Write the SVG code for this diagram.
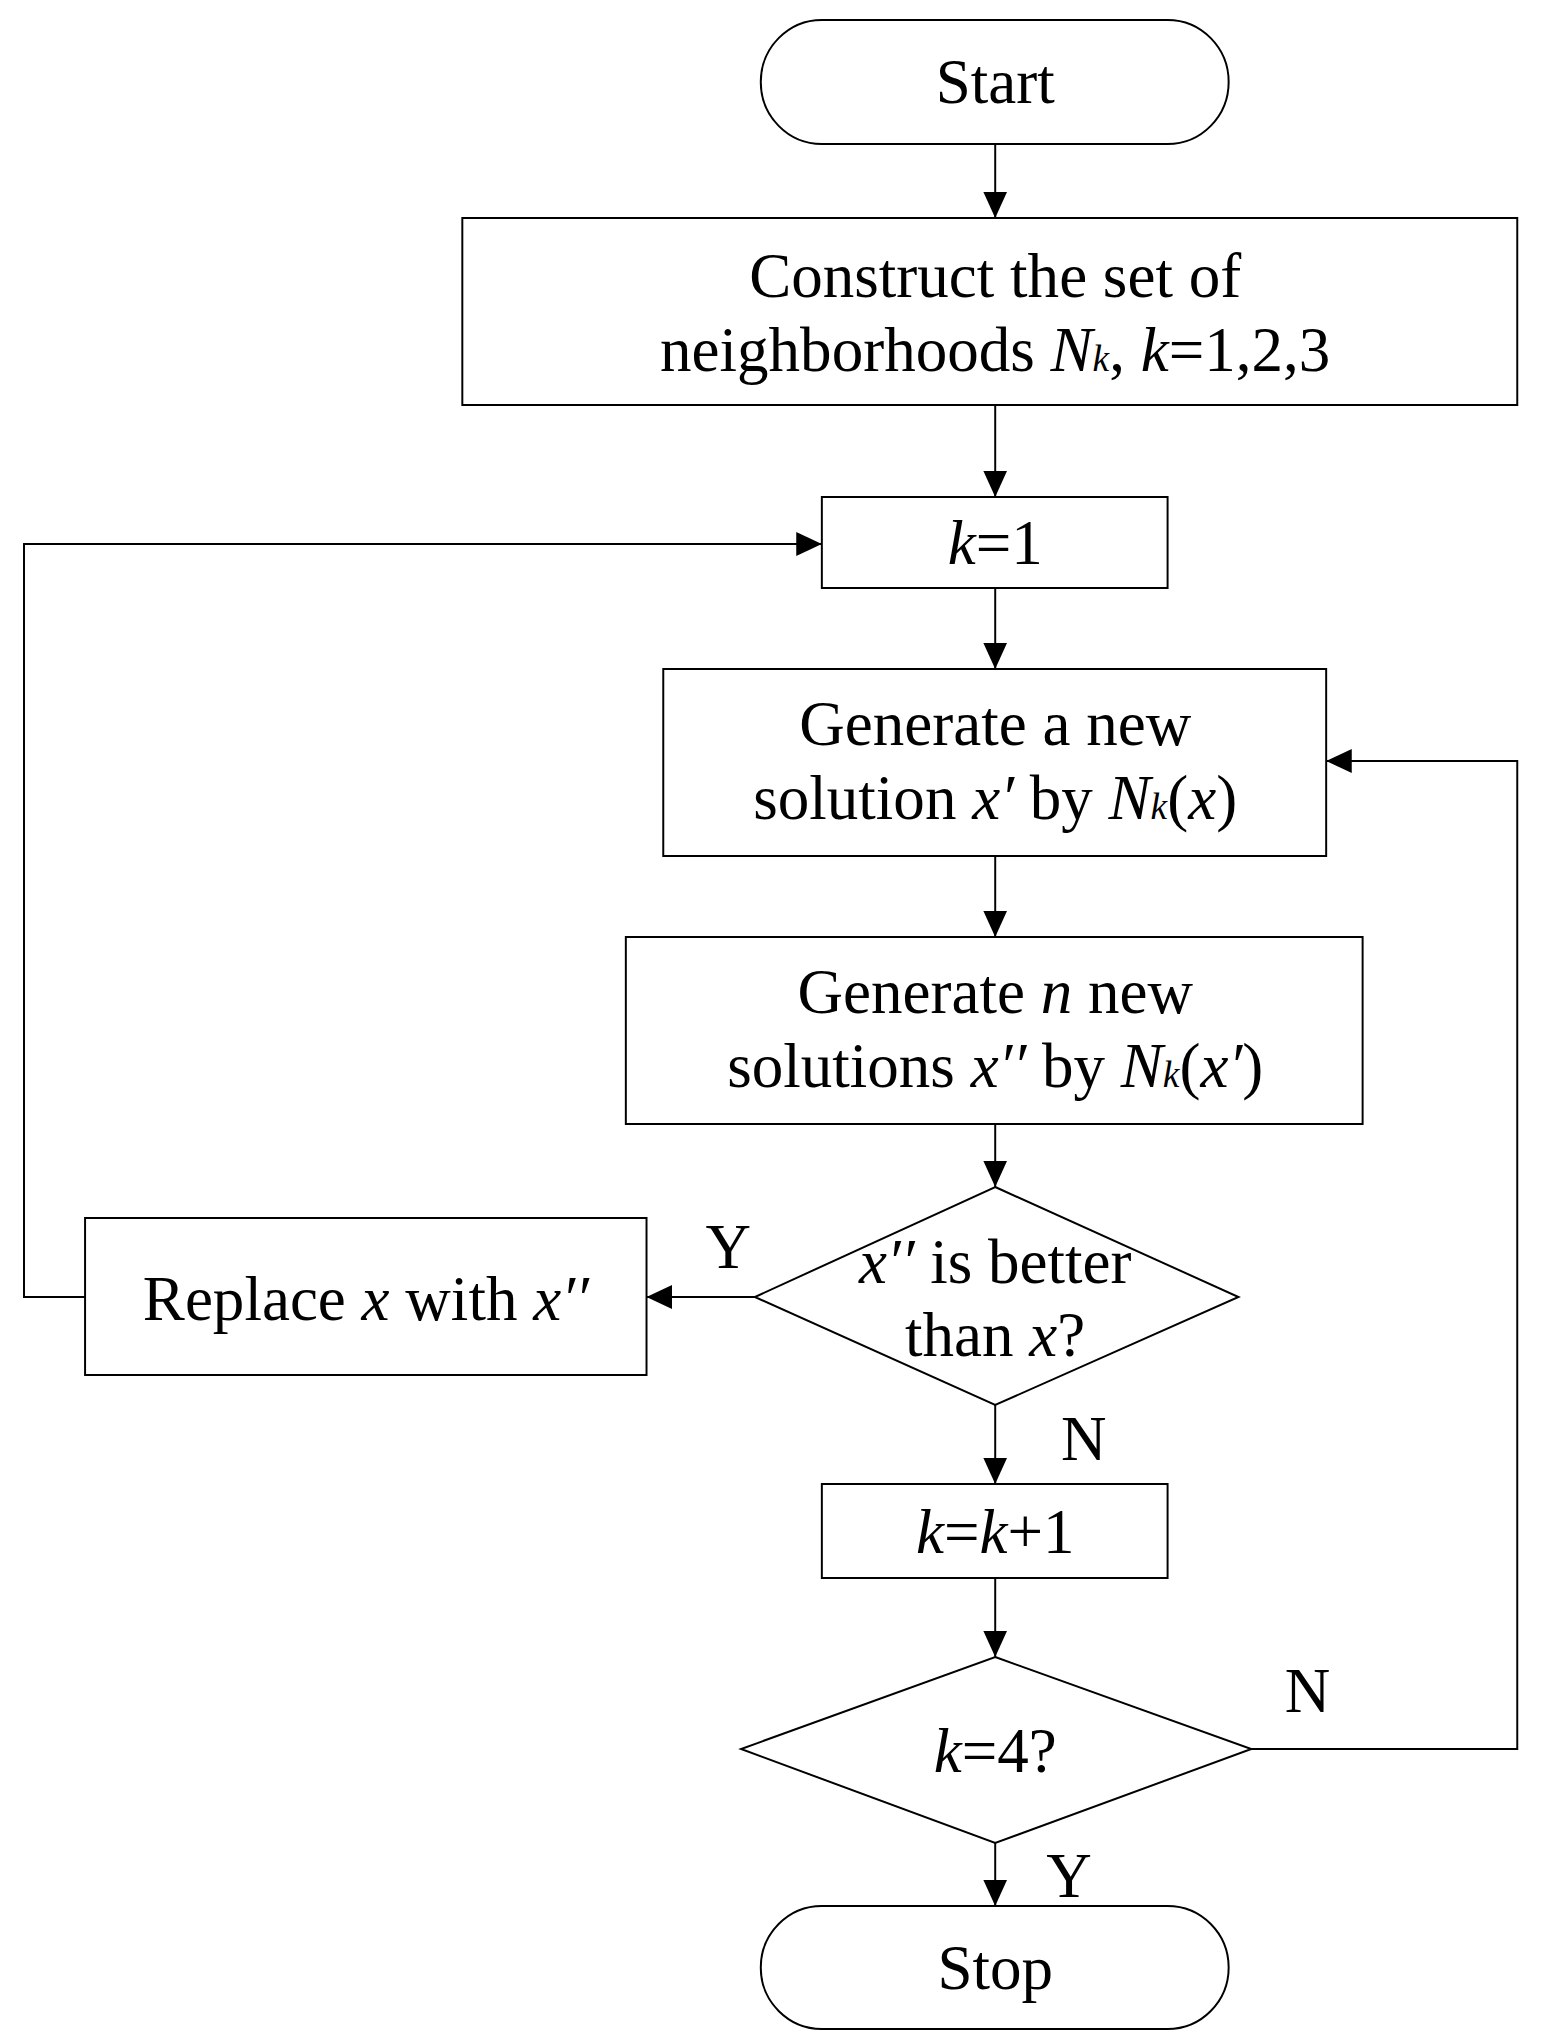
<svg xmlns="http://www.w3.org/2000/svg" width="1543" height="2042" viewBox="0 0 1543 2042">
<style>
.s{fill:#fff;stroke:#000;stroke-width:2}
.c{fill:none;stroke:#000;stroke-width:2;marker-end:url(#a)}
text{font-family:"Liberation Serif",serif;font-size:64px;fill:#000;text-anchor:middle}
tspan.i{font-style:italic}
tspan.sub{font-size:38px;font-style:italic}
</style>
<defs><marker id="a" markerWidth="28" markerHeight="26" refX="26" refY="12" orient="auto" markerUnits="userSpaceOnUse"><path d="M0,0 L26,12 L0,24 Z" fill="#000"/></marker></defs>
<rect width="1543" height="2042" fill="#fff"/>
<g transform="translate(24,0) scale(0.985,1) translate(-24,0)">
<g id="connectors">
<path class="c" d="M1010,144 V218"/>
<path class="c" d="M1010,405 V497"/>
<path class="c" d="M1010,588 V669"/>
<path class="c" d="M1010,856 V937"/>
<path class="c" d="M1010,1124 V1187"/>
<path class="c" d="M766,1297 H656"/>
<path class="c" d="M86,1297 H24 V544 H834"/>
<path class="c" d="M1010,1405 V1484"/>
<path class="c" d="M1010,1578 V1657"/>
<path class="c" d="M1270,1749 H1540 V761 H1346"/>
<path class="c" d="M1010,1843 V1906"/>
</g>
<g id="start"><rect class="s" x="772" y="20" width="475" height="124" rx="62"/><text x="1010" y="103">Start</text></g>
<g id="construct"><rect class="s" x="469" y="218" width="1071" height="187"/><text x="1010" y="297">Construct the set of</text><text x="1010" y="371">neighborhoods <tspan class="i">N</tspan><tspan class="sub">k</tspan>, <tspan class="i">k</tspan>=1,2,3</text></g>
<g id="k1"><rect class="s" x="834" y="497" width="351" height="91"/><text x="1010" y="564"><tspan class="i">k</tspan>=1</text></g>
<g id="gen1"><rect class="s" x="673" y="669" width="673" height="187"/><text x="1010" y="745">Generate a new</text><text x="1010" y="819">solution <tspan class="i">x′</tspan> by <tspan class="i">N</tspan><tspan class="sub">k</tspan>(<tspan class="i">x</tspan>)</text></g>
<g id="gen2"><rect class="s" x="635" y="937" width="748" height="187"/><text x="1010" y="1013">Generate <tspan class="i">n</tspan> new</text><text x="1010" y="1087">solutions <tspan class="i">x′′</tspan> by <tspan class="i">N</tspan><tspan class="sub">k</tspan>(<tspan class="i">x′</tspan>)</text></g>
<g id="dec1"><path class="s" d="M1010,1187 L1257,1297 L1010,1405 L766,1297 Z"/><text x="1010" y="1283"><tspan class="i">x′′</tspan> is better</text><text x="1010" y="1356">than <tspan class="i">x</tspan>?</text></g>
<g id="replace"><rect class="s" x="86" y="1218" width="570" height="157"/><text x="371" y="1320">Replace <tspan class="i">x</tspan> with <tspan class="i">x′′</tspan></text></g>
<g id="kinc"><rect class="s" x="834" y="1484" width="351" height="94"/><text x="1010" y="1553"><tspan class="i">k</tspan>=<tspan class="i">k</tspan>+1</text></g>
<g id="dec2"><path class="s" d="M1010,1657 L1270,1749 L1010,1843 L752,1749 Z"/><text x="1010" y="1772"><tspan class="i">k</tspan>=4?</text></g>
<g id="stop"><rect class="s" x="772" y="1906" width="475" height="123" rx="62"/><text x="1010" y="1989">Stop</text></g>
<g id="labels"><text x="739" y="1268">Y</text><text x="1100" y="1460">N</text><text x="1327" y="1712">N</text><text x="1085" y="1897">Y</text></g>
</g>
</svg>
